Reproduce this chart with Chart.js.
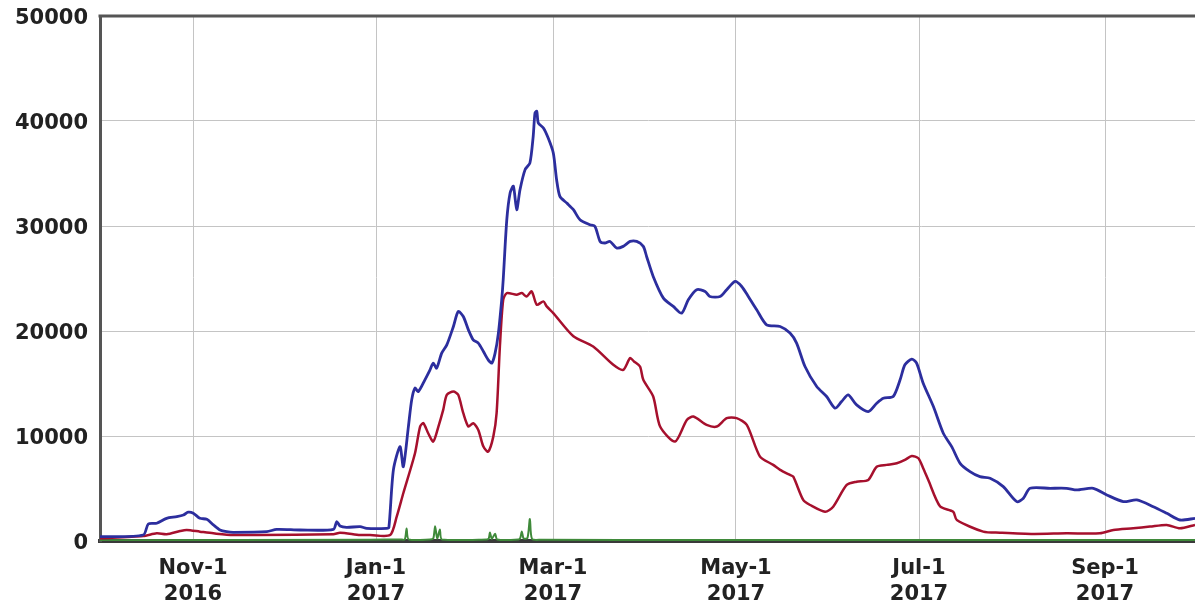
<!DOCTYPE html>
<html><head><meta charset="utf-8">
<script src="https://cdn.jsdelivr.net/npm/chart.js@4/dist/chart.umd.min.js"></script>
<style>html,body{margin:0;padding:0;background:#fff}#wrap{width:1195px;height:605px;position:relative}</style>
</head><body><div id="wrap"><canvas id="c" width="1195" height="605"></canvas></div>
<script>
// x values are days since 2016-10-01
const startDate = "2016-10-01";
const endDay = 365;
const tickDates = ["2016-11-01","2017-01-01","2017-03-01","2017-05-01","2017-07-01","2017-09-01"];
const tickMonthLabels = ["Nov-1","Jan-1","Mar-1","May-1","Jul-1","Sep-1"];
const tickYearLabels = ["2016","2017","2017","2017","2017","2017"];
const yTicks = [0,10000,20000,30000,40000,50000];

const blueDays = [0,14.4,16.1,18.9,22.2,25.6,27.8,29.4,31.1,33.3,35.6,37.8,40,42.2,44.4,55.6,58.9,66.7,77.8,78.9,80,82.2,86.7,88.9,95.6,96.3,97.8,100,101.1,102.8,103.9,105,106.1,108.3,110,111.1,112.2,113.9,115.6,117.8,119.4,121.1,122.8,124.4,126.1,127.8,129.4,130.6,131.7,132.8,133.9,134.4,135.6,136.7,137.8,138.9,140,141.7,143.3,144.4,145,145.6,146.1,147.8,149.4,151.1,152.2,153.3,155.6,157.8,160,163.3,165,166.7,168.3,170,172.2,174.4,176.7,178.9,181.1,182.2,184.4,187.8,191.1,193.9,196.1,198.9,201.7,203.3,206.7,208.9,211.7,213.9,216.1,218.9,222.2,226.7,230,232.2,235,238.9,242.2,245,247.2,249.4,252.2,256.1,258.9,261.1,264.4,266.7,268.3,270.6,272.2,274.4,277.8,281.1,283.9,286.7,290,293.3,296.7,301.1,305.6,307.8,310,316.7,322.2,325.6,331.1,335.6,341.1,345.6,351.1,355.6,360,365];
const blueValues = [410,570,1620,1690,2160,2320,2480,2740,2640,2160,2070,1530,1050,890,830,890,1110,1050,1110,1840,1430,1300,1370,1210,1210,1300,6770,8990,7080,10900,13440,14560,14230,15350,16300,16940,16460,17890,18680,20430,21860,21380,20110,19160,18850,18050,17250,16940,17890,19800,22970,24880,30600,33150,33780,31550,33460,35370,36000,38540,40770,40920,39810,39340,38380,36960,34410,32820,32180,31550,30600,30120,29960,28530,28380,28530,27900,28060,28530,28530,28060,27100,25200,23130,22340,21700,22970,23930,23770,23290,23290,23930,24720,24240,23290,22020,20590,20430,19800,18850,16620,14710,13760,12650,13280,13920,12960,12330,13120,13600,13760,15350,16780,17320,16940,15030,12800,10260,8990,7400,6610,6130,5980,5180,3750,4070,5020,5020,5020,4860,5020,4390,3750,3910,3270,2640,2000,2160];

const redDays = [0,14.4,18.9,22.2,26.7,28.9,33.3,37.8,44.4,77.8,80,86.7,90,96.7,98.9,101.1,105,106.7,107.8,109.4,111.1,112.8,114.4,115.6,117.8,119.4,121.1,122.8,124.4,126.1,127.8,129.4,131.1,132.2,133.3,134.4,135.6,138.9,140.6,142.2,143.9,145.6,147.8,148.9,151.1,157.8,164.4,171.1,174.4,176.7,178,180,181.1,184.4,186.7,191.7,195.6,197.8,202.2,205.6,208.9,212.2,215.6,220,224.4,226.7,230,231.1,234.4,236.7,241.7,244.4,248.9,252.2,256.1,258.9,262.2,265.6,268.3,270.6,272.8,274.4,276.1,280,284.4,285.6,294.4,300,311.1,322.2,333.3,337.8,344.4,350,355.6,360,365];
const redValues = [255,480,730,640,950,1050,890,730,570,640,790,570,570,570,2320,4550,8360,10900,11220,10260,9470,10900,12490,13920,14230,13920,12170,10900,11220,10580,8990,8510,9940,12170,18520,22970,23610,23450,23610,23290,23770,22500,22820,22340,21700,19500,18520,16780,16300,17420,17100,16620,15350,13760,10900,9470,11530,11850,11060,10900,11700,11700,11060,8040,7250,6770,6290,6130,3910,3430,2790,3270,5340,5650,5820,7080,7250,7400,7720,8100,7880,6930,5800,3300,2790,2000,890,790,670,730,730,1050,1210,1370,1530,1210,1530];

const greenDays = [0,90,100,101.6,102.2,102.9,110,111.1,111.7,112.4,113.3,114,129,129.6,130,130.6,131.7,132.4,139.5,140.1,140.6,141.2,142.5,143.3,144,147,200,365];
const greenValues = [80,120,150,150,1200,150,150,250,1400,250,1100,150,150,250,800,200,700,150,150,300,900,250,300,2100,200,120,100,100];

const toDay = d => (Date.parse(d) - Date.parse(startDate)) / 86400000;
const tickDays = tickDates.map(toDay);
const pts = (xs, ys) => xs.map((x, i) => ({x, y: ys[i]}));

const labelFont = {family: "'DejaVu Sans', Verdana, sans-serif", size: 21, weight: 'bold', lineHeight: 1.22};

const framePlugin = {
  id: 'frameTop',
  afterDraw(chart) {
    const {ctx, chartArea} = chart;
    ctx.save();
    ctx.strokeStyle = '#555';
    ctx.lineWidth = 3;
    ctx.beginPath();
    ctx.moveTo(chartArea.left - 1.5, chartArea.top);
    ctx.lineTo(chartArea.right, chartArea.top);
    ctx.stroke();
    ctx.restore();
  }
};

new Chart(document.getElementById('c'), {
  type: 'line',
  data: {
    datasets: [
      {data: pts(blueDays, blueValues), borderColor: '#2c2e9e', borderWidth: 2.8, order: 1},
      {data: pts(redDays, redValues), borderColor: '#a6102d', borderWidth: 2.5, order: 2},
      {data: pts(greenDays, greenValues), borderColor: '#3f8a3a', borderWidth: 2, order: 3}
    ]
  },
  options: {
    responsive: false,
    animation: false,
    parsing: false,
    layout: {padding: {top: 16, right: 0, left: 0, bottom: 0}},
    elements: {point: {radius: 0}, line: {tension: 0.25, fill: false}},
    plugins: {legend: {display: false}, tooltip: {enabled: false}},
    scales: {
      x: {
        type: 'linear', min: 0, max: endDay,
        afterBuildTicks: s => { s.ticks = tickDays.map(v => ({value: v})); },
        afterFit: s => { s.height = 64; s.paddingLeft = 0; s.paddingRight = 0; },
        ticks: {
          autoSkip: false, maxRotation: 0, minRotation: 0, padding: 15,
          color: '#222', font: labelFont,
          callback: v => { const i = tickDays.indexOf(v); return i < 0 ? '' : [tickMonthLabels[i], tickYearLabels[i]]; }
        },
        grid: {color: '#c4c4c4', lineWidth: 1, drawTicks: false},
        border: {display: true, color: '#3a3a3a', width: 4}
      },
      y: {
        min: 0, max: 50000,
        afterBuildTicks: s => { s.ticks = yTicks.map(v => ({value: v})); },
        afterFit: s => { s.width = 100; s.paddingTop = 0; s.paddingBottom = 0; },
        ticks: {color: '#222', font: labelFont, padding: 12, labelOffset: 3, callback: v => String(v)},
        grid: {color: '#c4c4c4', lineWidth: 1, drawTicks: false},
        border: {display: true, color: '#555', width: 3}
      }
    }
  },
  plugins: [framePlugin]
});
</script>
</body></html>
